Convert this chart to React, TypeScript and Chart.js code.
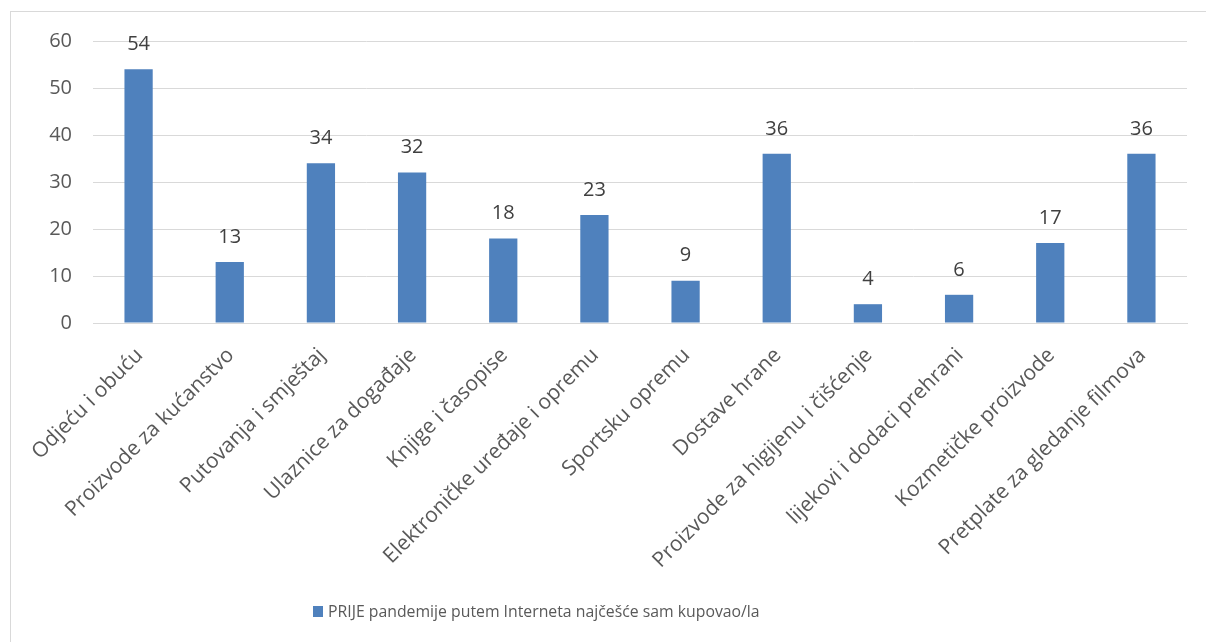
import React, { useEffect, useRef } from "react";
import { Chart, registerables } from "chart.js";

Chart.register(...registerables);

const categories = [
  "Odjeću i obuću",
  "Proizvode za kućanstvo",
  "Putovanja i smještaj",
  "Ulaznice za događaje",
  "Knjige i časopise",
  "Elektroničke uređaje i opremu",
  "Sportsku opremu",
  "Dostave hrane",
  "Proizvode za higijenu i čišćenje",
  "lijekovi i dodaci prehrani",
  "Kozmetičke proizvode",
  "Pretplate za gledanje filmova",
];
const values = [54, 13, 34, 32, 18, 23, 9, 36, 4, 6, 17, 36];
const seriesLabel = "PRIJE pandemije putem Interneta najčešće sam kupovao/la";
const yTicks = [0, 10, 20, 30, 40, 50, 60];

const FONT = "'Open Sans', sans-serif";
const TEXT = "#595959";
const BAR = "#4F81BD";
const GRID = "#D9D9D9";

const frame = {
  id: "frame",
  beforeDraw(chart: any) {
    const ctx = chart.ctx;
    ctx.save();
    ctx.fillStyle = "#ffffff";
    ctx.fillRect(0, 0, chart.width, chart.height);
    ctx.strokeStyle = GRID;
    ctx.lineWidth = 1;
    ctx.strokeRect(10.5, 11.5, chart.width + 50, chart.height + 50);
    ctx.restore();
  },
};

const dataLabels = {
  id: "dataLabels",
  afterDatasetsDraw(chart: any) {
    const ctx = chart.ctx;
    const meta = chart.getDatasetMeta(0);
    ctx.save();
    ctx.font = `20px ${FONT}`;
    ctx.fillStyle = "#404040";
    ctx.textAlign = "center";
    ctx.textBaseline = "middle";
    meta.data.forEach((bar: any, i: number) => {
      ctx.fillText(String(chart.data.datasets[0].data[i]), bar.x, bar.y - 25);
    });
    ctx.restore();
  },
};

export default function App() {
  const ref = useRef<HTMLCanvasElement>(null);
  useEffect(() => {
    if (!ref.current) return;
    const chart = new Chart(ref.current, {
      type: "bar",
      data: {
        labels: categories,
        datasets: [
          {
            label: seriesLabel,
            data: values,
            backgroundColor: BAR,
            borderWidth: 0,
            categoryPercentage: 1,
            barPercentage: 0.31,
          },
        ],
      },
      options: {
        animation: false,
        responsive: true,
        maintainAspectRatio: false,
        layout: { padding: { left: 10, right: 19, top: 41, bottom: 0 } },
        plugins: {
          legend: { display: false },
          tooltip: { enabled: false },
        },
        scales: {
          x: {
            grid: { display: false, drawTicks: false },
            border: { display: true, color: GRID, width: 1 },
            ticks: {
              font: { family: FONT, size: 21 },
              color: TEXT,
              maxRotation: 45,
              minRotation: 45,
              autoSkip: false,
              padding: 20,
              labelOffset: 1,
            },
            afterFit(scale: any) {
              scale.height = 319;
            },
          },
          y: {
            min: 0,
            max: 60,
            afterBuildTicks(scale: any) {
              scale.ticks = yTicks.map((v) => ({ value: v }));
            },
            grid: { color: GRID, drawTicks: false },
            border: { display: false },
            ticks: {
              font: { family: FONT, size: 20 },
              color: TEXT,
              padding: 21,
            },
            afterFit(scale: any) {
              scale.width = 83;
            },
          },
        },
      },
      plugins: [frame, dataLabels],
    });
    return () => chart.destroy();
  }, []);

  return (
    <div style={{ position: "absolute", left: 0, top: 0, width: 1206, height: 642 }}>
      <canvas ref={ref} />
      <div
        style={{
          position: "absolute",
          left: 313,
          top: 599,
          height: 24,
          display: "flex",
          alignItems: "center",
          fontFamily: FONT,
          fontSize: 15.8,
          color: TEXT,
          whiteSpace: "nowrap",
        }}
      >
        <span style={{ display: "inline-block", width: 10, height: 11, background: BAR, marginRight: 5 }} />
        <span>{seriesLabel}</span>
      </div>
    </div>
  );
}
